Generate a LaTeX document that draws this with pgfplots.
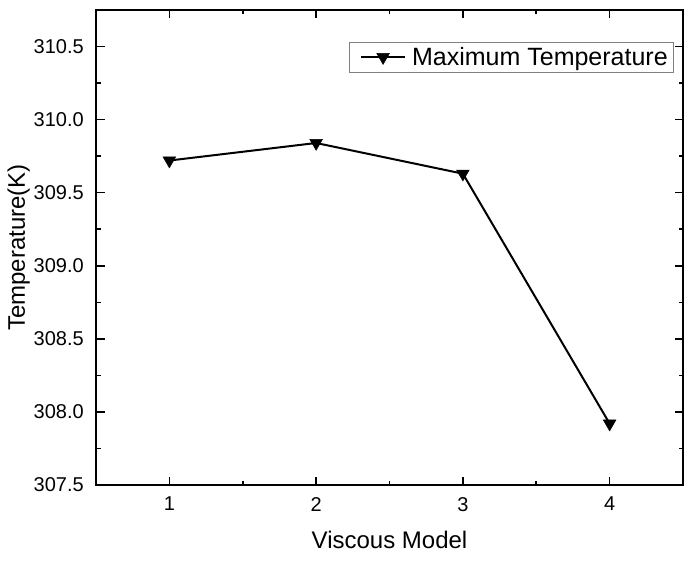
\documentclass[border=0pt]{standalone}
\usepackage{fontspec}
\setmainfont{Liberation Sans}
\usepackage{pgfplots}
\pgfplotsset{compat=1.18}
\begin{document}
\begin{tikzpicture}
\begin{axis}[
  scale only axis, width=587pt, height=475pt,
  xmin=0.5, xmax=4.5, ymin=307.5, ymax=310.75,
  xtick={1,2,3,4}, ytick={307.5,308,308.5,309,309.5,310,310.5},
  minor x tick num=1, minor y tick num=1,
  tick align=inside, tick pos=both,
  major tick length=8.5pt, minor tick length=4.5pt,
  axis line style={line width=1.8pt},
  tick style={line width=1.6pt, black},
  /pgf/number format/assume math mode=true,
  xticklabel={\pgfmathprintnumber{\tick}},
  yticklabel={\pgfmathprintnumber[fixed,fixed zerofill,precision=1]{\tick}},
  yticklabel style={font=\fontsize{20}{22}\selectfont, inner sep=0pt, xshift=-12pt},
  xticklabel style={font=\fontsize{20}{22}\selectfont, inner sep=0pt, yshift=-12pt},
  xlabel={Viscous Model}, ylabel={Temperature(K)},
  label style={font=\fontsize{24}{28}\selectfont},
  xlabel style={at={(axis description cs:0.5,-0.1347)}, anchor=base, inner sep=0pt},
  ylabel style={at={(axis description cs:-0.121,0.5)}, anchor=base, rotate=0, inner sep=0pt},
  legend style={at={(axis description cs:0.9847,0.9326)}, anchor=north east,
    draw=gray, line width=0.6pt, inner xsep=4pt, inner ysep=3pt,
    font=\fontsize{25}{29}\selectfont,
    nodes={inner sep=2pt}},
  legend image code/.code={%
    \path (-7pt,0pt) (48pt,0pt);
    \draw[mark repeat=2,mark phase=2] plot coordinates {(0pt,0pt) (22pt,0pt) (44pt,0pt)};},
]
\addplot[black, line width=2pt, mark=triangle*, mark size=7.3pt, mark options={rotate=180, line width=0.5pt}]
  coordinates {(1,309.72) (2,309.84) (3,309.63) (4,307.92)};
\addlegendentry{Maximum Temperature}
\end{axis}
\pgfresetboundingbox
\path[use as bounding box] (-96pt,-88pt) rectangle (599pt,485pt);
\end{tikzpicture}
\end{document}
